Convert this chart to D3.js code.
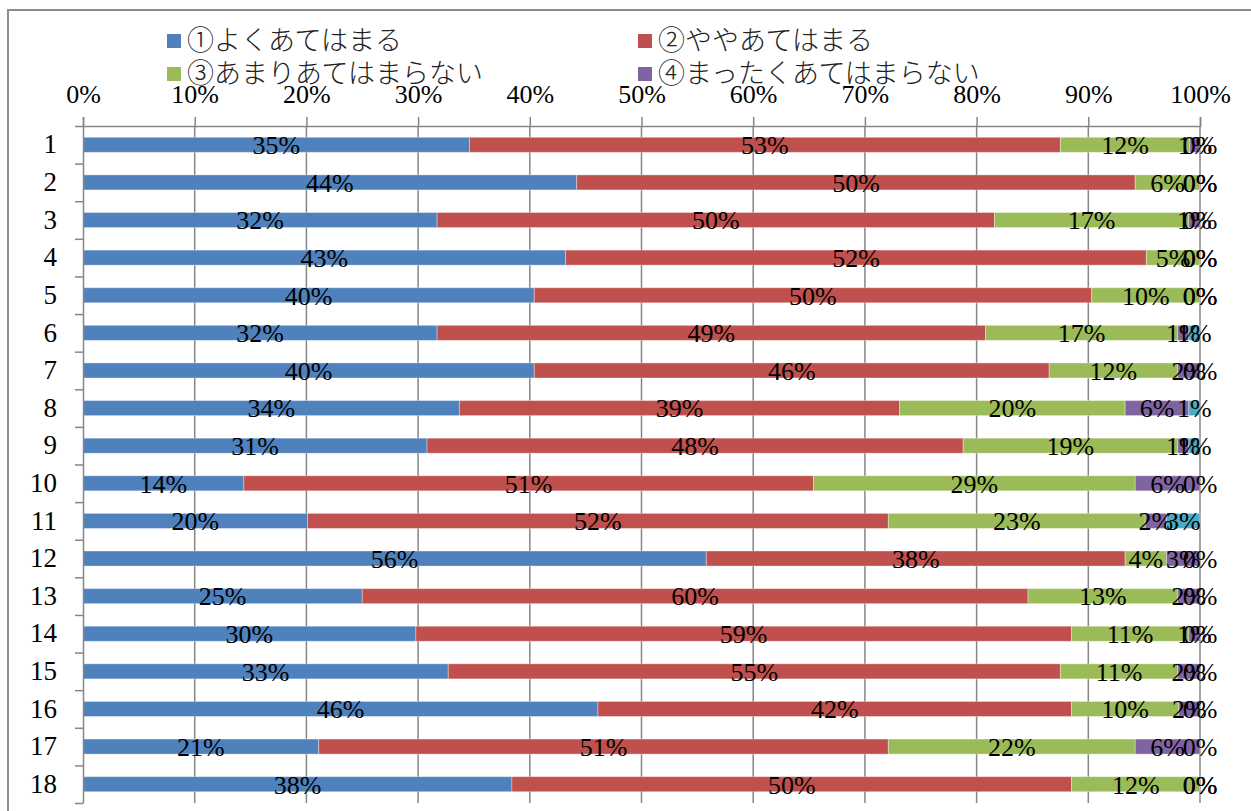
<!DOCTYPE html>
<html lang="ja">
<head>
    <meta charset="UTF-8">
    <title>100% stacked bar</title>
    <script src="https://cdn.jsdelivr.net/npm/d3@7/dist/d3.min.js"></script>
    <style>
        body { margin: 0; background: #fff; }
        svg { display: block; }
        .num { font-family: "Liberation Serif", "Times New Roman", "DejaVu Serif", serif; }
    </style>
</head>
<body>
<script>
    // 設問番号
    const items = ['1', '2', '3', '4', '5', '6', '7', '8', '9', '10', '11', '12', '13', '14', '15', '16', '17', '18'];
    // 回答ごとの割合 (%)
    const s1 = [34.6, 44.2, 31.7, 43.2, 40.4, 31.7, 40.4, 33.7, 30.8, 14.4, 20.1, 55.8, 25.0, 29.8, 32.7, 46.1, 21.1, 38.4];
    const s2 = [52.9, 50.0, 49.9, 52.0, 49.9, 49.1, 46.1, 39.4, 48.0, 51.0, 52.0, 37.5, 59.6, 58.7, 54.8, 42.4, 51.0, 50.1];
    const s3 = [11.6, 5.8, 17.4, 4.8, 9.7, 17.2, 11.5, 20.2, 19.2, 28.8, 23.0, 3.7, 13.4, 10.5, 10.5, 9.6, 22.1, 11.5];
    const s4 = [0.9, 0, 1.0, 0, 0, 1.0, 2.0, 5.7, 1.0, 5.8, 1.9, 3.0, 2.0, 1.0, 2.0, 1.9, 5.8, 0];
    const s5 = [0, 0, 0, 0, 0, 1.0, 0, 1.0, 1.0, 0, 3.0, 0, 0, 0, 0, 0, 0, 0];
    const seriesNames = ['①よくあてはまる', '②ややあてはまる', '③あまりあてはまらない', '④まったくあてはまらない', '無回答'];
    const xTicks = [0, 10, 20, 30, 40, 50, 60, 70, 80, 90, 100];

    const colors = ['#4F81BD', '#C0504D', '#9BBB59', '#8064A2', '#4BACC6'];
    const width = 1251;
    const height = 811;
    const plot = { left: 83, right: 1200, top: 126, bottom: 803 };

    const svg = d3.select('body').append('svg')
        .attr('width', width)
        .attr('height', height);

    // 外枠
    svg.append('rect')
        .attr('x', 8).attr('y', 10)
        .attr('width', 1400).attr('height', 1000)
        .attr('fill', 'none')
        .attr('stroke', '#8c8c8c')
        .attr('stroke-width', 2);

    const x = d3.scaleLinear().domain([0, 100]).range([plot.left, plot.right]);
    const y = d3.scaleBand().domain(items).range([plot.top, plot.bottom])
        .paddingInner(0.6).paddingOuter(0.3);
    const yEdge = d3.scaleLinear().domain([0, items.length]).range([plot.top, plot.bottom]);

    // 縦のグリッド線
    svg.append('g')
        .selectAll('line')
        .data(xTicks.slice(1))
        .join('line')
        .attr('x1', d => x(d)).attr('x2', d => x(d))
        .attr('y1', plot.top).attr('y2', plot.bottom)
        .attr('stroke', '#868686')
        .attr('stroke-width', 1.5);

    // 積み上げデータ
    const table = items.map((k, i) => ({ key: k, v: [s1[i], s2[i], s3[i], s4[i], s5[i]] }));
    const stack = d3.stack()
        .keys([0, 1, 2, 3, 4])
        .value((d, k) => d.v[k]);
    const layers = stack(table);

    svg.append('g')
        .selectAll('g')
        .data(layers)
        .join('g')
        .attr('fill', (d, i) => colors[i])
        .selectAll('rect')
        .data(d => d)
        .join('rect')
        .attr('x', d => x(d[0]))
        .attr('y', d => y(d.data.key))
        .attr('width', d => x(d[1]) - x(d[0]))
        .attr('height', y.bandwidth())
        .attr('stroke', '#ffffff')
        .attr('stroke-opacity', 0.35)
        .attr('stroke-width', 1);

    // 軸
    const axisTop = d3.axisTop(x).tickValues(xTicks).tickFormat(d => d + '%').tickSize(9).tickPadding(14);
    const gx = svg.append('g')
        .attr('transform', `translate(0,${plot.top})`)
        .call(axisTop);
    gx.attr('font-family', null);
    gx.select('.domain').attr('stroke', '#868686').attr('stroke-width', 1.5);
    gx.selectAll('.tick line').attr('stroke', '#868686').attr('stroke-width', 1.5);
    gx.selectAll('.tick text')
        .attr('class', 'num')
        .attr('fill', '#000')
        .style('font-size', '26px');

    const gyTicks = svg.append('g')
        .attr('transform', `translate(${plot.left},0)`)
        .call(d3.axisLeft(yEdge).tickValues(d3.range(items.length + 1)).tickFormat('').tickSize(8).tickSizeOuter(0));
    gyTicks.select('.domain').attr('stroke', '#868686').attr('stroke-width', 1.5);
    gyTicks.selectAll('.tick line').attr('stroke', '#868686').attr('stroke-width', 1.5);

    const gy = svg.append('g')
        .attr('transform', `translate(${plot.left},0)`)
        .call(d3.axisLeft(y).tickSize(0).tickPadding(26));
    gy.attr('font-family', null);
    gy.select('.domain').remove();
    gy.selectAll('.tick text')
        .attr('class', 'num')
        .attr('fill', '#000')
        .style('font-size', '27px');

    // データラベル
    svg.append('g')
        .selectAll('g')
        .data(layers)
        .join('g')
        .selectAll('text')
        .data(d => d)
        .join('text')
        .attr('class', 'num')
        .attr('x', d => (x(d[0]) + x(d[1])) / 2)
        .attr('y', d => y(d.data.key) + y.bandwidth() / 2)
        .attr('dy', '0.36em')
        .attr('text-anchor', 'middle')
        .style('font-size', '26px')
        .attr('fill', '#000')
        .text(d => Math.round(d[1] - d[0]) + '%');

    // 凡例
    const legendPos = [[167, 34], [638, 34], [167, 67], [638, 67]];
    const legend = svg.append('g')
        .selectAll('g')
        .data(seriesNames.slice(0, 4))
        .join('g')
        .attr('transform', (d, i) => `translate(${legendPos[i][0]},${legendPos[i][1]})`);
    legend.append('rect')
        .attr('width', 14).attr('height', 14)
        .attr('fill', (d, i) => colors[i]);
    legend.append('text')
        .attr('x', 20)
        .attr('y', 16)
        .style('font-family', '"Noto Sans CJK JP", sans-serif')
        .style('font-size', '27px')
        .style('font-weight', 300)
        .attr('fill', '#222')
        .text(d => d);
</script>
</body>
</html>
